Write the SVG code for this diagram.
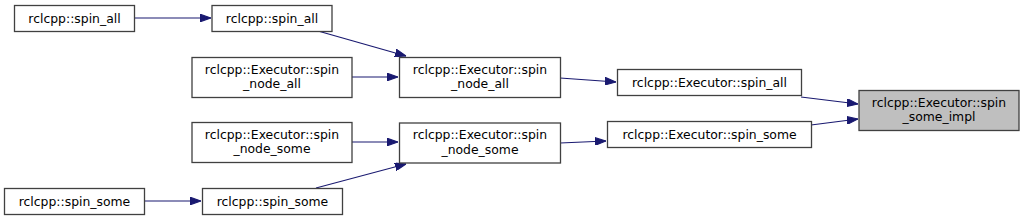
<svg xmlns="http://www.w3.org/2000/svg" width="1024" height="220" viewBox="0 0 1024 220">
<style>
.n rect{fill:#ffffff;stroke:#404040;stroke-width:1.3}
.n.t rect{fill:#bfbfbf}
.n text{font-family:"DejaVu Sans",sans-serif;font-size:12.4px;fill:#000000;text-anchor:middle}
.e line{stroke:#191970;stroke-width:1.2;fill:none;marker-end:url(#ah)}
</style>
<defs>
<marker id="ah" viewBox="0 0 10 7" refX="10" refY="3.5" markerWidth="11" markerHeight="8" orient="auto" markerUnits="userSpaceOnUse">
<path d="M0,0 L10,3.5 L0,7 z" fill="#191970" stroke="#191970"/>
</marker>
</defs>
<rect width="1024" height="220" fill="#ffffff"/>
<g id="edges" class="e">
<line x1="134" y1="18" x2="211" y2="18"/>
<line x1="318" y1="31" x2="406" y2="56"/>
<line x1="352" y1="77" x2="398" y2="77"/>
<line x1="560" y1="78" x2="616" y2="82"/>
<line x1="352" y1="142" x2="398" y2="142"/>
<line x1="316" y1="188" x2="406" y2="164"/>
<line x1="144" y1="201" x2="201" y2="201"/>
<line x1="560" y1="143" x2="606" y2="141"/>
<line x1="801" y1="97" x2="858" y2="104"/>
<line x1="811" y1="125" x2="858" y2="119"/>
</g>
<g id="n_spin_all_1" class="n"><rect x="14.5" y="5.5" width="120" height="26"/><text x="74.5" y="23">rclcpp::spin_all</text></g>
<g id="n_spin_all_2" class="n"><rect x="212" y="5.5" width="120" height="26"/><text x="272" y="23">rclcpp::spin_all</text></g>
<g id="n_spin_node_all_1" class="n"><rect x="192" y="57.5" width="160" height="40"/><text x="272" y="73.5">rclcpp::Executor::spin</text><text x="272" y="88">_node_all</text></g>
<g id="n_spin_node_all_2" class="n"><rect x="399.5" y="57.5" width="161" height="40"/><text x="480" y="73.5">rclcpp::Executor::spin</text><text x="480" y="88">_node_all</text></g>
<g id="n_spin_node_some_1" class="n"><rect x="192" y="122.5" width="160" height="40"/><text x="272" y="138.5">rclcpp::Executor::spin</text><text x="272" y="153">_node_some</text></g>
<g id="n_spin_node_some_2" class="n"><rect x="399.5" y="123" width="161" height="40"/><text x="480" y="139">rclcpp::Executor::spin</text><text x="480" y="153.5">_node_some</text></g>
<g id="n_spin_some_1" class="n"><rect x="4.5" y="188.5" width="140" height="26"/><text x="74.5" y="206">rclcpp::spin_some</text></g>
<g id="n_spin_some_2" class="n"><rect x="202.5" y="188.5" width="140" height="26"/><text x="272.5" y="206">rclcpp::spin_some</text></g>
<g id="n_exec_spin_all" class="n"><rect x="617.5" y="69.5" width="184" height="26"/><text x="709.5" y="87">rclcpp::Executor::spin_all</text></g>
<g id="n_exec_spin_some" class="n"><rect x="607.5" y="121.5" width="204" height="26"/><text x="709.5" y="139">rclcpp::Executor::spin_some</text></g>
<g id="n_spin_some_impl" class="n t"><rect x="859" y="90.5" width="160" height="40"/><text x="939" y="106.5">rclcpp::Executor::spin</text><text x="939" y="121">_some_impl</text></g>
</svg>
